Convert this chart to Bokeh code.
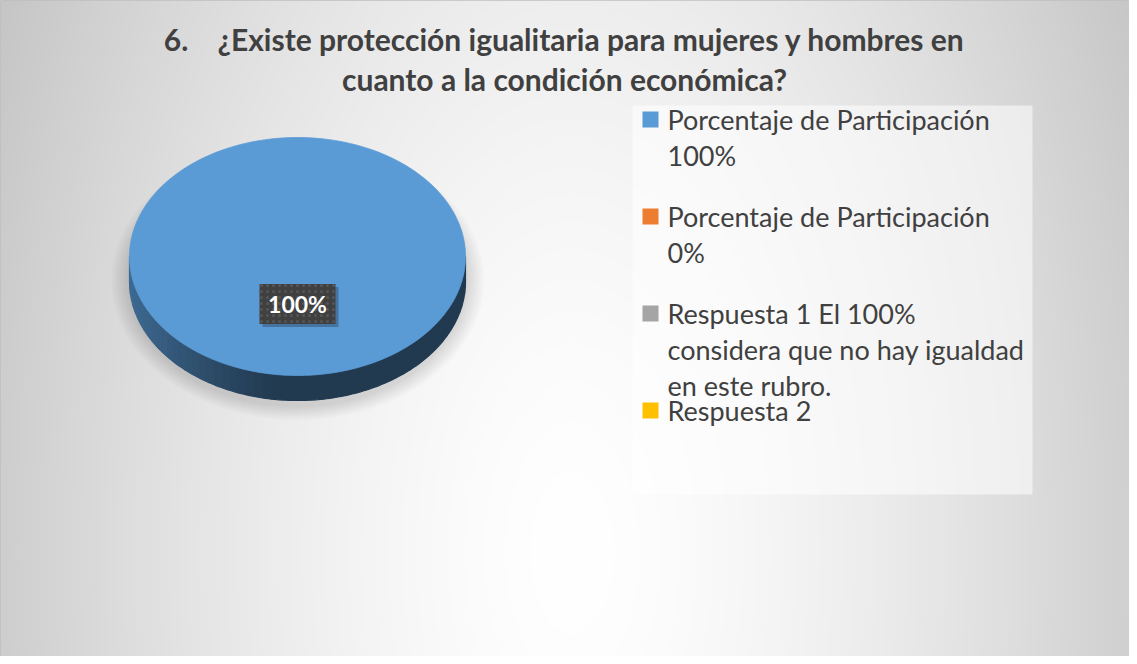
import numpy as np
from bokeh.plotting import figure
from bokeh.models import Range1d
from bokeh.core.properties import value
from bokeh.embed import file_html
from bokeh.resources import INLINE

# ---------------- data ----------------
title_lines = ["6.\u00a0\u00a0\u00a0\u00a0¿Existe protección igualitaria para mujeres y hombres en",
               "cuanto a la condición económica?"]
categories = ["Porcentaje de Participación 100%",
              "Porcentaje de Participación 0%",
              "Respuesta 1 El 100% considera que no hay igualdad en este rubro.",
              "Respuesta 2"]
legend_lines = [["Porcentaje de Participación", "100%"],
                ["Porcentaje de Participación", "0%"],
                ["Respuesta 1 El 100%", "considera que no hay igualdad", "en este rubro."],
                ["Respuesta 2"]]
values = [100, 0, 0, 0]
colors = ["#5B9BD5", "#ED7D31", "#A5A5A5", "#FFC000"]

# ---------------- layout ----------------
W, H = 1129, 656
OFF = 8
def X(v): return np.asarray(v, dtype=float) - OFF
def Y(v): return H - (np.asarray(v, dtype=float) - OFF)

p = figure(width=W, height=H, output_backend="svg", toolbar_location=None,
           x_range=Range1d(0, W), y_range=Range1d(0, H), min_border=0)
p.axis.visible = False
p.grid.visible = False
p.outline_line_color = "#BFBFBF"
p.background_fill_color = "#E6E6E6"
p.border_fill_color = "#FFFFFF"

# background radial gradient
nx, ny = 565, 328
gxr = (np.arange(nx) + 0.5) * W / nx + OFF
gyr = H - (np.arange(ny) + 0.5) * H / ny + OFF
GX, GY = np.meshgrid(gxr, gyr)
d = np.sqrt(((GX - 580) / 670.0) ** 2 + ((GY - 560) / 1300.0) ** 2)
d = np.clip(d, 0, 1)
g = (255 - 62 * d ** 1.5).astype(np.uint8)
img = np.empty((ny, nx), dtype=np.uint32)
view = img.view(dtype=np.uint8).reshape((ny, nx, 4))
view[..., 0] = g
view[..., 1] = g
view[..., 2] = g
view[..., 3] = 255
p.image_rgba(image=[img], x=0, y=0, dw=W, dh=H)

# ---------------- pie (3D look) ----------------
cx, cy, rx, ry, depth = 305.0, 264.0, 168.0, 119.0, 25.0

# soft shadow
for k in range(8):
    p.ellipse(x=X(cx), y=Y(cy + 24), width=2 * (rx + 3 + 2.2 * k), height=2 * (ry + 8 + 1.8 * k),
              fill_color="black", fill_alpha=0.014, line_color=None)

total = float(sum(values))
fracs = [v / total for v in values]
starts = np.concatenate([[0.0], np.cumsum(fracs)[:-1]]) * 2 * np.pi
ends = np.cumsum(fracs) * 2 * np.pi

def shade(hex_color, f):
    h = hex_color.lstrip("#")
    r, gg, b = int(h[0:2], 16), int(h[2:4], 16), int(h[4:6], 16)
    return "#%02x%02x%02x" % (int(r * f), int(gg * f), int(b * f))

# sides (front half: angles 90..270 deg clockwise from top)
for s, e, c, fr in zip(starts, ends, colors, fracs):
    if fr <= 0:
        continue
    a0, a1 = max(s, np.pi / 2), min(e, 3 * np.pi / 2)
    if a1 <= a0:
        continue
    nstrip = 60
    edges = np.linspace(a0, a1, nstrip + 1)
    sxs, sys, scol = [], [], []
    for i in range(nstrip):
        th = np.linspace(edges[i], edges[i + 1], 4)
        tx = cx + rx * np.sin(th)
        ty = cy - ry * np.cos(th)
        px = np.concatenate([tx, tx[::-1]])
        py = np.concatenate([ty, (ty + depth)[::-1]])
        sxs.append(list(X(px)))
        sys.append(list(Y(py)))
        t = (cx + rx * np.sin(0.5 * (edges[i] + edges[i + 1])) - (cx - rx)) / (2 * rx)
        t = 1 - t  # 0 at right, 1 at left
        f = 0.38 + 0.30 * max(0.0, (t - 0.55) / 0.45) ** 1.3
        scol.append(shade(c, f))
    p.patches(xs=sxs, ys=sys, fill_color=scol, line_color=scol, line_width=1.2)

# top faces
for s, e, c, fr in zip(starts, ends, colors, fracs):
    if fr <= 0:
        continue
    th = np.linspace(s, e, 200)
    tx = cx + rx * np.sin(th)
    ty = cy - ry * np.cos(th)
    if fr < 1:
        tx = np.concatenate([[cx], tx])
        ty = np.concatenate([[cy], ty])
    p.patch(x=X(tx), y=Y(ty), fill_color=c, line_color=c, line_width=0.8)

# data labels
for s, e, v, fr in zip(starts, ends, values, fracs):
    if fr <= 0:
        continue
    m = 0.5 * (s + e)
    lx = cx + 0.4 * rx * np.sin(m)
    ly = cy - 0.4 * ry * np.cos(m)
    lab = f"{fr * 100:.0f}%"
    p.rect(x=X(lx) + 3, y=Y(ly) - 3, width=76, height=40, width_units="screen", height_units="screen",
           fill_color="black", fill_alpha=0.25, line_color=None)
    p.rect(x=X(lx), y=Y(ly), width=76, height=40, width_units="screen", height_units="screen",
           fill_color="#404040", line_color=None, hatch_pattern="dot", hatch_color="#555555",
           hatch_scale=6, hatch_weight=1.5)
    p.text(x=[X(lx)], y=[Y(ly)], text=[lab], text_align="center", text_baseline="middle",
           text_font=value("Lato"), text_font_style="bold", text_font_size="23px",
           text_color="#FFFFFF")

# ---------------- legend ----------------
p.quad(left=X(640), right=X(1040), top=Y(113), bottom=Y(502),
       fill_color="#FFFFFF", fill_alpha=0.55, line_color=None)
LINE_H = 36
ENTRY_H = 97
for i, (lines, c) in enumerate(zip(legend_lines, colors)):
    y0 = 127 + i * ENTRY_H
    p.rect(x=X(658), y=Y(y0), width=16, height=16, width_units="screen", height_units="screen",
           fill_color=c, line_color=None)
    p.text(x=[X(675)] * len(lines), y=list(Y([y0 + j * LINE_H for j in range(len(lines))])),
           text=lines, text_align="left", text_baseline="middle",
           text_font=value("Lato"), text_font_size="27px", text_color="#404040")

# ---------------- title ----------------
p.text(x=[X(572)] * 2, y=list(Y([46, 86])), text=title_lines, text_align="center",
       text_baseline="middle", text_font=value("Lato"), text_font_style="bold",
       text_font_size="30px", text_color="#404040")

open("out.html", "w").write(file_html(p, INLINE))
